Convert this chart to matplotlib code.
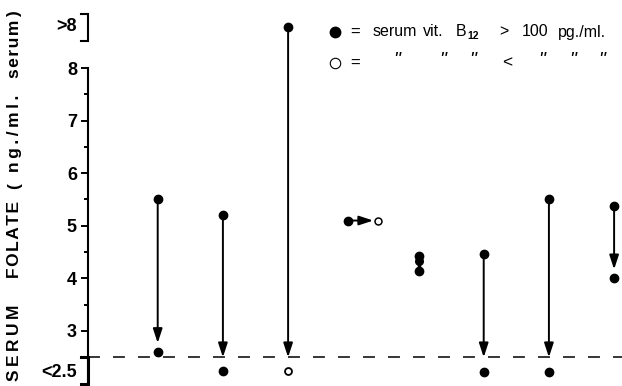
import matplotlib
matplotlib.use("Agg")
import matplotlib.pyplot as plt

plt.rcParams["lines.scale_dashes"] = False

# patient columns with a vertical change (before -> after)
cols = [1, 2, 3, 5, 6, 7, 8]
before = [5.5, 5.2, 8.78, 4.43, 4.46, 5.5, 5.38]
after = [2.6, 2.24, 2.24, 4.14, 2.22, 2.22, 4.0]
after_low_b12 = [False, False, True, False, False, False, False]

# patient 4: value unchanged, B12 status changed
p4_x = [3.92, 4.38]
p4_y = [5.1, 5.1]

yticks = [3, 4, 5, 6, 7, 8]
yminor = [3.5, 4.5, 5.5, 6.5, 7.5]
floor_val = 2.5

W, H = 622, 386
fig = plt.figure(figsize=(W / 100, H / 100), dpi=100, facecolor="white")
ax = fig.add_axes([88 / W, 0, 534 / W, 1])
ax.set_xlim(-0.069, 8.121)
ax.set_ylim(1.954, 9.293)
for s in ["top", "right", "bottom"]:
    ax.spines[s].set_visible(False)
ax.spines["left"].set_linewidth(1.5)
ax.spines["left"].set_bounds(1.96, 8)
ax.set_xticks([])
ax.set_yticks(yticks)
ax.set_yticks(yminor, minor=True)
ax.tick_params(axis="y", which="major", direction="out", length=5, width=1.4,
               pad=3, labelsize=13)
ax.tick_params(axis="y", which="minor", direction="out", length=3, width=1.4)
for lab in ax.get_yticklabels():
    lab.set_fontweight("bold")
    lab.set_family("Liberation Sans")

ytr = ax.get_yaxis_transform()
ax.annotate(">8", xy=(0, 8.78), xycoords=ytr, xytext=(-8, 0),
            textcoords="offset points", ha="right", va="center",
            fontsize=13, fontweight="bold", family="Liberation Sans")
ax.annotate("<2.5", xy=(0, 2.22), xycoords=ytr, xytext=(-8, 0),
            textcoords="offset points", ha="right", va="center",
            fontsize=13, fontweight="bold", family="Liberation Sans")

# brackets
x0 = -0.069
stub = 0.105
ax.plot([x0 - stub, x0, x0, x0 - stub], [9.03, 9.03, 8.52, 8.52],
        color="black", lw=1.5, clip_on=False, solid_joinstyle="miter")
ax.plot([x0 - stub, x0, x0, x0 - stub], [2.5, 2.5, 1.99, 1.99],
        color="black", lw=2.2, clip_on=False, solid_joinstyle="miter")

# dashed floor line
ax.plot([x0, 8.121], [floor_val, floor_val], color="black", lw=1.1,
        dashes=(8.6, 9.4), dash_capstyle="butt")

head = "-|>,head_length=0.85,head_width=0.28"
for x, b, a, op in zip(cols, before, after, after_low_b12):
    if a < floor_val:
        end, shr = floor_val, 0
    else:
        end, shr = a, 6.5
    if b - a > 0.5:
        ax.annotate("", xy=(x, end), xytext=(x, b),
                    arrowprops=dict(arrowstyle=head, color="black", lw=1.4,
                                    shrinkA=0, shrinkB=shr))
    else:
        ax.plot([x, x], [b, a], color="black", lw=2.5)
        ax.plot(x, b - 0.1, "o", color="black", ms=5.5)
    ax.plot(x, b, "o", color="black", ms=6)
    if op:
        ax.plot(x, a, "o", mfc="white", mec="black", mew=1.3, ms=5)
    else:
        ax.plot(x, a, "o", color="black", ms=6)

ax.annotate("", xy=(p4_x[1], p4_y[1]), xytext=(p4_x[0], p4_y[0]),
            arrowprops=dict(arrowstyle=head, color="black", lw=1.4,
                            shrinkA=0, shrinkB=3.5))
ax.plot(p4_x[0], p4_y[0], "o", color="black", ms=6)
ax.plot(p4_x[1], p4_y[1], "o", mfc="white", mec="black", mew=1.1, ms=5)

# y label, word by word so the spacing follows the original
ts, hs = "\u2009", "\u200a"
ylabel_words = [(ts.join("SERUM"), 343), (hs.join("FOLATE"), 240), ("(", 186),
                (ts.join("ng./ml."), 133), (hs.join("serum") + ts + ")", 44)]
for w, py in ylabel_words:
    fig.text(15 / W, 1 - py / H, w, rotation=90, ha="center",
             va="center", fontsize=12.5, fontweight="bold",
             family=["Liberation Sans", "DejaVu Sans"])

# legend
font = ["Liberation Sans", "DejaVu Sans"]
y1 = 1 - 32 / H
y2 = 1 - 63 / H
ax.plot([335 / W], [y1], "o", color="black", ms=7.5, transform=fig.transFigure,
        clip_on=False)
ax.plot([335 / W], [y2], "o", mfc="white", mec="black", mew=0.8, ms=7.5,
        transform=fig.transFigure, clip_on=False)
fig.text(350 / W, y1, "=", ha="left", va="center", fontsize=12, family=font)
fig.text(350 / W, y2, "=", ha="left", va="center", fontsize=12, family=font)
words1 = [("serum", 373), ("vit.", 423), ("B", 456), (">", 499),
          ("100", 522), ("pg./ml.", 558)]
for w, px in words1:
    fig.text(px / W, y1, w, ha="left", va="center", fontsize=11.5, family=font)
fig.text(467 / W, y1 - 4 / H, "12", ha="left", va="center", fontsize=7.5,
         family=font, fontweight="bold")
for px in [397, 443, 473, 542, 573, 602]:
    fig.text(px / W, y2 + 3 / H, '"', ha="center", va="center",
             fontsize=14, family=font, style="italic")
fig.text(507 / W, y2, "<", ha="center", va="center", fontsize=12.5, family=font)

fig.savefig("out.png", dpi=100, facecolor="white")
